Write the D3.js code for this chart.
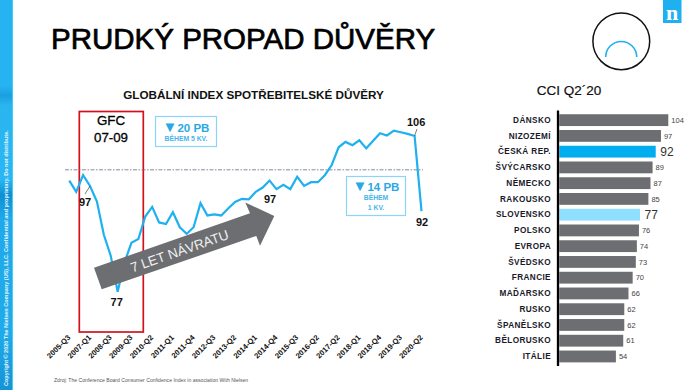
<!DOCTYPE html>
<html>
<head>
<meta charset="utf-8">
<script src="https://cdn.jsdelivr.net/npm/d3@7"></script>
<style>
    html, body { margin: 0; padding: 0; background: #fff; }
    svg { display: block; font-family: "Liberation Sans", Arial, sans-serif; }
</style>
</head>
<body>
<svg id="chart" width="700" height="390"></svg>
<script>
const quarters = ['2005-Q3', '2006-Q1', '2006-Q3', '2007-Q1', '2007-Q3', '2008-Q1', '2008-Q3', '2009-Q1', '2009-Q2',
    '2009-Q3', '2009-Q4', '2010-Q1', '2010-Q2', '2010-Q3', '2010-Q4', '2011-Q1', '2011-Q2', '2011-Q3', '2011-Q4',
    '2012-Q1', '2012-Q2', '2012-Q3', '2012-Q4', '2013-Q1', '2013-Q2', '2013-Q3', '2013-Q4', '2014-Q1', '2014-Q2',
    '2014-Q3', '2014-Q4', '2015-Q1', '2015-Q2', '2015-Q3', '2015-Q4', '2016-Q1', '2016-Q2', '2016-Q3', '2016-Q4',
    '2017-Q2', '2017-Q3', '2017-Q4', '2018-Q1', '2018-Q2', '2018-Q3', '2018-Q4', '2019-Q1', '2019-Q2', '2019-Q3',
    '2019-Q4', '2020-Q1', '2020-Q2'];
const cciValues = [97.7, 95.6, 98.7, 96.7, 93.8, 87.6, 83.7, 77, 82.5,
    86.1, 86.8, 91, 92.8, 89.9, 89.6, 91.8, 89, 87.8, 89,
    93.5, 91.2, 91.4, 91.2, 92.5, 93.7, 94.3, 94.2, 95.6, 96.4,
    97.7, 96.1, 96.9, 96.1, 98.4, 96.7, 97.4, 97.4, 98.7, 100.6,
    103.9, 104.9, 104.3, 105.2, 103.7, 105.1, 106.5, 106.1, 107, 106.7,
    106.4, 106, 92];
const quarterTicks = ['2005-Q3', '2007-Q1', '2008-Q3', '2009-Q3', '2010-Q2', '2011-Q1', '2011-Q4', '2012-Q3', '2013-Q2',
    '2014-Q1', '2014-Q4', '2015-Q3', '2016-Q2', '2017-Q2', '2018-Q1', '2018-Q4', '2019-Q3', '2020-Q2'];
const baselineValue = 99.7;

const countries = ['DÁNSKO', 'NIZOZEMÍ', 'ČESKÁ REP.', 'ŠVÝCARSKO', 'NĚMECKO', 'RAKOUSKO', 'SLOVENSKO', 'POLSKO',
    'EVROPA', 'ŠVÉDSKO', 'FRANCIE', 'MAĎARSKO', 'RUSKO', 'ŠPANĚLSKO', 'BĚLORUSKO', 'ITÁLIE'];
const countryValues = [104, 97, 92, 89, 87, 85, 77, 76, 74, 73, 70, 66, 62, 62, 61, 54];

const blue = '#1fb0f0';
const grey = '#6d6e71';
const svg = d3.select('#chart');

// Blue strip on the left edge
const defs = svg.append('defs');
const stripGrad = defs.append('linearGradient').attr('id', 'strip').attr('x1', 0).attr('x2', 0).attr('y1', 0).attr('y2', 1);
[[0, '#25b4f1'], [0.22, '#25b4f1'], [0.245, '#1a9fe0'], [0.27, '#2ab5f0'], [0.46, '#29b6f2'], [0.5, '#0e8fd2'],
    [0.56, '#1fa9ea'], [0.85, '#1fabea'], [1, '#1693d6']].forEach(s => {
    stripGrad.append('stop').attr('offset', s[0]).attr('stop-color', s[1]);
});
svg.append('rect').attr('width', 13).attr('height', 390).attr('fill', 'url(#strip)');
svg.append('rect').attr('x', 12).attr('width', 1).attr('height', 390).attr('fill', '#3fcdfa');
svg.append('text')
    .attr('transform', 'translate(8,386) rotate(-90)')
    .attr('font-size', 5.5)
    .attr('font-weight', 'bold')
    .attr('fill', '#e6f6fe')
    .text('Copyright © 2020  The Nielsen Company (US), LLC. Confidential and proprietary.  Do not distribute.');

// Title and logo
svg.append('text')
    .attr('x', 51).attr('y', 49)
    .attr('font-size', 29.5)
    .attr('stroke', '#000').attr('stroke-width', 0.7)
    .text('PRUDKÝ PROPAD DŮVĚRY');

svg.append('rect').attr('x', 663).attr('y', 0).attr('width', 18.5).attr('height', 23).attr('fill', blue);
svg.append('text')
    .attr('x', 672).attr('y', 19.6)
    .attr('text-anchor', 'middle')
    .attr('font-family', '"Liberation Serif", serif')
    .attr('font-weight', 'bold')
    .attr('font-size', 22)
    .attr('fill', '#fff')
    .text('n');

svg.append('circle')
    .attr('cx', 621.3).attr('cy', 41.3).attr('r', 28.4)
    .attr('fill', 'none').attr('stroke', '#111').attr('stroke-width', 1.5);
svg.append('path')
    .attr('d', 'M605.7,57 A15.5,15.5 0 0 1 636.7,57')
    .attr('fill', 'none').attr('stroke', blue).attr('stroke-width', 1.6);

// Line chart
const xScale = d3.scalePoint().domain(quarters).range([69.3, 421.5]);
const yScale = d3.scaleLinear().domain([77, 106]).range([291.7, 136]);

svg.append('text')
    .attr('x', 253.5).attr('y', 99)
    .attr('text-anchor', 'middle')
    .attr('font-size', 11.7)
    .attr('font-weight', 'bold')
    .attr('fill', '#111')
    .text('GLOBÁLNÍ INDEX SPOTŘEBITELSKÉ DŮVĚRY');

// GFC period box
svg.append('rect')
    .attr('x', 79.3).attr('y', 111.5).attr('width', 64).attr('height', 220.5)
    .attr('fill', 'none').attr('stroke', '#d4111b').attr('stroke-width', 1.7);
svg.append('text').attr('x', 111).attr('y', 125).attr('text-anchor', 'middle').attr('font-size', 13.3)
    .attr('stroke', '#000').attr('stroke-width', 0.3).text('GFC');
svg.append('text').attr('x', 111).attr('y', 142).attr('text-anchor', 'middle').attr('font-size', 13.3)
    .attr('stroke', '#000').attr('stroke-width', 0.3).text('07-09');

// Dashed reference line
svg.append('line')
    .attr('x1', 65).attr('x2', 423)
    .attr('y1', yScale(baselineValue)).attr('y2', yScale(baselineValue))
    .attr('stroke', '#5f6f85').attr('stroke-width', 0.8).attr('stroke-dasharray', '4 1.5 1.5 1.5');

const line = d3.line()
    .x((d, i) => xScale(quarters[i]))
    .y(d => yScale(d));
svg.append('path')
    .datum(cciValues)
    .attr('d', line)
    .attr('fill', 'none')
    .attr('stroke', blue)
    .attr('stroke-width', 2.2)
    .attr('stroke-linejoin', 'miter');

// Recovery arrow sits on top of the line
svg.append('polygon')
    .attr('points', '94,267.7 250,213.3 245.3,202.5 274.3,216 260,245.7 256.3,236 101.7,289.3')
    .attr('fill', grey);
svg.append('text')
    .attr('transform', 'translate(181,255.5) rotate(-19.3)')
    .attr('text-anchor', 'middle')
    .attr('font-size', 13.5)
    .attr('fill', '#f0f0f0')
    .text('7 LET NÁVRATU');

// Point labels
const pointLabels = [
    { q: '2007-Q1', text: '97', dx: -5, dy: 20 },
    { q: '2009-Q1', text: '77', dx: -1, dy: 14.5 },
    { q: '2014-Q3', text: '97', dx: 0.5, dy: 22 },
    { q: '2020-Q1', text: '106', dx: 1.5, dy: -10.5 },
    { q: '2020-Q2', text: '92', dx: 0.5, dy: 14.5 }
];
svg.selectAll('text.point-label')
    .data(pointLabels)
    .join('text')
    .attr('class', 'point-label')
    .attr('x', d => xScale(d.q) + d.dx)
    .attr('y', d => yScale(cciValues[quarters.indexOf(d.q)]) + d.dy)
    .attr('text-anchor', 'middle')
    .attr('font-size', 11)
    .attr('font-weight', 'bold')
    .attr('fill', '#111')
    .text(d => d.text);
svg.append('line').attr('x1', 90).attr('y1', 186).attr('x2', 85).attr('y2', 194).attr('stroke', '#444').attr('stroke-width', 0.7);
svg.append('line').attr('x1', 414.5).attr('y1', 136).attr('x2', 417).attr('y2', 129).attr('stroke', '#444').attr('stroke-width', 0.7);

// Callout boxes, the triangle is set larger than the figure beside it
function callout(x, y, w, h, big, bigY, small) {
    svg.append('rect')
        .attr('x', x).attr('y', y).attr('width', w).attr('height', h)
        .attr('fill', '#fff').attr('stroke', '#8ed4f6').attr('stroke-width', 1.2);
    const bigText = svg.append('text')
        .attr('x', x + w / 2).attr('y', bigY)
        .attr('text-anchor', 'middle')
        .attr('font-size', 11.5)
        .attr('font-weight', 'bold')
        .attr('fill', '#29a9e4');
    bigText.append('tspan').attr('font-size', 15).text('▼');
    bigText.append('tspan').text(big);
    small.forEach(s => {
        svg.append('text')
            .attr('x', x + w / 2).attr('y', s.y)
            .attr('text-anchor', 'middle')
            .attr('font-size', 6.8)
            .attr('font-weight', 'bold')
            .attr('fill', '#45b5ec')
            .text(s.text);
    });
}
callout(155.5, 116.5, 61, 30, '20 PB', 131.5, [{ text: 'BĚHEM 5 KV.', y: 140.5 }]);
callout(346.5, 176.5, 59, 39, '14 PB', 191, [{ text: 'BĚHEM', y: 200 }, { text: '1 KV.', y: 209.5 }]);

// Rotated category axis, every third quarter is labelled
const xAxis = d3.axisBottom(xScale).tickValues(quarterTicks).tickSize(0).tickPadding(0);
const xAxisG = svg.append('g')
    .attr('transform', 'translate(0,336)')
    .call(xAxis);
xAxisG.select('.domain').remove();
xAxisG.selectAll('text')
    .attr('transform', 'translate(-1,0) rotate(-45)')
    .attr('x', 0).attr('y', 3)
    .attr('dy', 0)
    .attr('text-anchor', 'end')
    .attr('font-family', '"Liberation Sans", Arial, sans-serif')
    .attr('font-size', 7.6)
    .attr('font-weight', 'bold')
    .attr('fill', '#111');

svg.append('text')
    .attr('x', 54).attr('y', 382)
    .attr('font-size', 5.1)
    .attr('fill', '#555')
    .text('Zdroj: The Conference Board Consumer Confidence Index in association With Nielsen');

// Country bars
svg.append('text')
    .attr('x', 569).attr('y', 95)
    .attr('text-anchor', 'middle')
    .attr('font-size', 13.5)
    .attr('fill', '#111')
    .attr('stroke', '#111').attr('stroke-width', 0.2)
    .text('CCI Q2´20');

const barX = d3.scaleLinear().domain([0, 104]).range([559.3, 668.3]);
const barY = d3.scaleBand().domain(countries).range([110.3, 366.3]).padding(0.25);
const barColour = name => name === 'ČESKÁ REP.' ? '#00aeef' : name === 'SLOVENSKO' ? '#8fdfff' : grey;
const isHighlight = name => name === 'ČESKÁ REP.' || name === 'SLOVENSKO';

svg.selectAll('rect.country-bar')
    .data(countries)
    .join('rect')
    .attr('class', 'country-bar')
    .attr('x', barX(0))
    .attr('y', d => barY(d))
    .attr('width', (d, i) => barX(countryValues[i]) - barX(0))
    .attr('height', barY.bandwidth())
    .attr('fill', d => barColour(d));

const barAxis = d3.axisLeft(barY).tickSize(0).tickPadding(7);
const barAxisG = svg.append('g')
    .attr('transform', `translate(${barX(0) - 1.3},0)`)
    .call(barAxis);
barAxisG.select('.domain').remove();
barAxisG.selectAll('text')
    .attr('font-family', '"Liberation Sans", Arial, sans-serif')
    .attr('font-size', 8.2)
    .attr('font-weight', 'bold')
    .attr('letter-spacing', 0.4)
    .attr('fill', '#1a1a2a');
svg.append('line')
    .attr('x1', 558).attr('x2', 558).attr('y1', 110.5).attr('y2', 366)
    .attr('stroke', '#000').attr('stroke-width', 2.3);

svg.selectAll('text.country-value')
    .data(countries)
    .join('text')
    .attr('class', 'country-value')
    .attr('x', (d, i) => barX(countryValues[i]) + (isHighlight(d) ? 4.5 : 3))
    .attr('y', d => barY(d) + barY.bandwidth() / 2 + (isHighlight(d) ? 4.5 : 2.7))
    .attr('font-size', d => isHighlight(d) ? 12 : 7.5)
    .attr('fill', d => isHighlight(d) ? '#333' : '#444')
    .text((d, i) => countryValues[i]);
</script>
</body>
</html>
